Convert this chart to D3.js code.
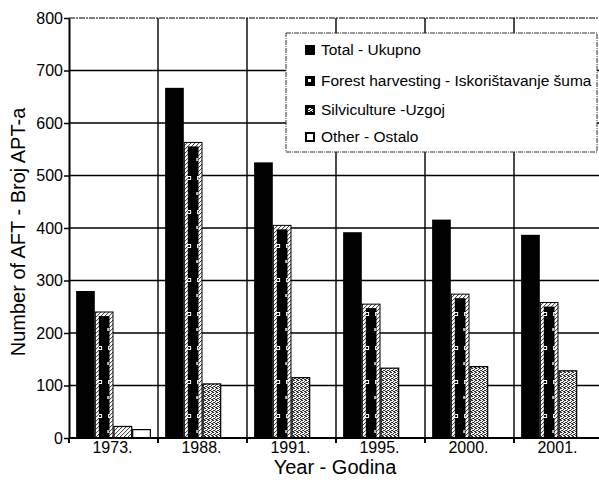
<!DOCTYPE html>
<html>
<head>
<meta charset="utf-8">
<script src="https://cdn.jsdelivr.net/npm/d3@7"></script>
<style>
  html, body { margin: 0; padding: 0; background: #fff; }
  svg { display: block; font-family: "Liberation Sans", Arial, sans-serif; }
</style>
</head>
<body>
<svg id="chart" width="599" height="491"></svg>
<script>
// Number of forestry workers by year and type of work
const years = ["1973.", "1988.", "1991.", "1995.", "2000.", "2001."];
const seriesNames = ["Total - Ukupno", "Forest harvesting - Iskorištavanje šuma", "Silviculture -Uzgoj", "Other - Ostalo"];
const total = [280, 667, 525, 392, 416, 387];
const harvesting = [240, 563, 405, 255, 274, 258];
const silviculture = [22, 103, 115, 133, 136, 128];
const other = [16, 0, 0, 0, 0, 0];
const yTicks = [0, 100, 200, 300, 400, 500, 600, 700, 800];

const seriesValues = [total, harvesting, silviculture, other];
const keys = ["total", "harvesting", "silviculture", "other"];

const svg = d3.select("#chart");
const margin = { left: 69, top: 18, bottom: 438, right: 603 };

// Patterns imitating the printed grey screens
const defs = svg.append("defs");
const dither = defs.append("pattern").attr("id", "dither")
  .attr("width", 4).attr("height", 4).attr("patternUnits", "userSpaceOnUse");
dither.append("rect").attr("width", 4).attr("height", 4).attr("fill", "#fff");
[[0,0],[2,1],[1,2],[3,3],[2,3],[0,2],[3,0]].forEach(([x, y]) =>
  dither.append("rect").attr("x", x).attr("y", y).attr("width", 1).attr("height", 1).attr("fill", "#222"));

const lightDither = defs.append("pattern").attr("id", "lightDither")
  .attr("width", 4).attr("height", 4).attr("patternUnits", "userSpaceOnUse");
lightDither.append("rect").attr("width", 4).attr("height", 4).attr("fill", "#fff");
[[0,0],[2,2],[3,1],[1,3]].forEach(([x, y]) =>
  lightDither.append("rect").attr("x", x).attr("y", y).attr("width", 1).attr("height", 1).attr("fill", "#333"));

const flecks = defs.append("pattern").attr("id", "flecks")
  .attr("width", 10).attr("height", 34).attr("patternUnits", "userSpaceOnUse");
flecks.append("rect").attr("width", 10).attr("height", 34).attr("fill", "#000");
flecks.append("rect").attr("x", 2).attr("y", 6).attr("width", 4).attr("height", 4)
  .attr("fill", "#fff");
flecks.append("rect").attr("x", 3).attr("y", 7).attr("width", 2).attr("height", 2)
  .attr("fill", "#000");
flecks.append("rect").attr("x", 1).attr("y", 22).attr("width", 2).attr("height", 3)
  .attr("fill", "#bbb");

const x0 = d3.scaleBand().domain(years).range([margin.left, margin.right])
  .paddingInner(0.16).paddingOuter(0.08);
const x1 = d3.scaleBand().domain(keys).range([0, x0.bandwidth()]);
const y = d3.scaleLinear().domain([0, 800]).range([margin.bottom, margin.top]);

const step = x0.step();
const boundaries = years.map((d, i) => margin.left + i * step).concat([margin.left + years.length * step]);

// Grid
const grid = svg.append("g");
grid.selectAll("line.h").data(yTicks.filter(t => t > 0)).join("line")
  .attr("x1", margin.left).attr("x2", margin.right)
  .attr("y1", d => y(d)).attr("y2", d => y(d))
  .attr("stroke", d => d === 800 ? "#555" : "#000")
  .attr("stroke-width", d => d === 800 ? 1.6 : 1.4)
  .attr("stroke-dasharray", d => d === 800 ? "6,1,2,1" : null);
grid.selectAll("line.v").data(boundaries.slice(1)).join("line")
  .attr("x1", d => d).attr("x2", d => d)
  .attr("y1", y(800)).attr("y2", y(0))
  .attr("stroke", "#000").attr("stroke-width", 1.4);

// Bars
const groups = svg.append("g").selectAll("g").data(years).join("g")
  .attr("transform", d => `translate(${x0(d)},0)`);

groups.each(function(year, i) {
  const g = d3.select(this);
  keys.forEach((k, s) => {
    const v = seriesValues[s][i];
    if (v <= 0) return;
    const bx = x1(k), bw = x1.bandwidth(), by = y(v), bh = y(0) - y(v);
    if (k === "total") {
      g.append("rect").attr("x", bx).attr("y", by).attr("width", bw).attr("height", bh)
        .attr("fill", "#000");
    } else if (k === "harvesting") {
      g.append("rect").attr("x", bx + 0.5).attr("y", by).attr("width", bw - 1).attr("height", bh)
        .attr("fill", "url(#lightDither)").attr("stroke", "#000").attr("stroke-width", 1);
      g.append("rect").attr("x", bx + 4).attr("y", by + 4).attr("width", Math.max(0, bw - 8))
        .attr("height", Math.max(0, bh - 5)).attr("fill", "url(#flecks)");
    } else if (k === "silviculture") {
      g.append("rect").attr("x", bx + 0.5).attr("y", by).attr("width", bw - 1).attr("height", bh)
        .attr("fill", v < 50 ? "url(#lightDither)" : "url(#dither)")
        .attr("stroke", "#000").attr("stroke-width", 1.2);
    } else {
      g.append("rect").attr("x", bx + 0.5).attr("y", by).attr("width", bw - 1).attr("height", bh)
        .attr("fill", "#fff").attr("stroke", "#000").attr("stroke-width", 1.2);
    }
  });
});

// Axes
const yAxis = svg.append("g").attr("transform", `translate(${margin.left},0)`)
  .call(d3.axisLeft(y).tickValues(yTicks).tickSize(5).tickSizeOuter(0).tickFormat(d3.format("d")));
yAxis.select(".domain").attr("stroke-width", 2);
yAxis.selectAll(".tick line").attr("stroke-width", 1.5);
yAxis.selectAll("text").attr("font-size", 16).attr("fill", "#000").attr("x", -6);

svg.append("line").attr("x1", margin.left).attr("x2", margin.right)
  .attr("y1", y(0)).attr("y2", y(0)).attr("stroke", "#000").attr("stroke-width", 2);
svg.selectAll("line.xt").data(boundaries).join("line")
  .attr("x1", d => d).attr("x2", d => d).attr("y1", y(0)).attr("y2", y(0) + 5)
  .attr("stroke", "#000").attr("stroke-width", 2);
svg.selectAll("text.year").data(years).join("text")
  .attr("x", d => x0(d) + x0.bandwidth() / 2 - 1).attr("y", 453)
  .attr("text-anchor", "middle").attr("font-size", 16).attr("fill", "#000")
  .text(d => d);

// Axis titles
svg.append("text").attr("x", 335).attr("y", 474).attr("text-anchor", "middle")
  .attr("font-size", 20).attr("fill", "#000").text("Year - Godina");
svg.append("text").attr("transform", "translate(25,232) rotate(-90)")
  .attr("text-anchor", "middle").attr("font-size", 20).attr("fill", "#000")
  .text("Number of AFT - Broj APT-a");

// Legend
const legend = svg.append("g");
legend.append("rect").attr("x", 286).attr("y", 33).attr("width", 311).attr("height", 119)
  .attr("fill", "#fff").attr("stroke", "#333").attr("stroke-width", 1)
  .attr("stroke-dasharray", "5,1,1,1");
const rowY = [50, 81, 110, 137];
seriesNames.forEach((name, i) => {
  const k = keys[i];
  const lx = 305, ly = rowY[i] - 5;
  if (k === "total") {
    legend.append("rect").attr("x", lx).attr("y", ly).attr("width", 10).attr("height", 10).attr("fill", "#000");
  } else if (k === "harvesting") {
    legend.append("rect").attr("x", lx).attr("y", ly).attr("width", 10).attr("height", 10).attr("fill", "#000");
    legend.append("rect").attr("x", lx + 3).attr("y", ly + 3).attr("width", 3).attr("height", 3).attr("fill", "#fff");
  } else if (k === "silviculture") {
    legend.append("rect").attr("x", lx).attr("y", ly).attr("width", 10).attr("height", 10).attr("fill", "#000");
    legend.append("rect").attr("x", lx + 3).attr("y", ly + 3).attr("width", 5).attr("height", 4).attr("fill", "url(#dither)");
  } else {
    legend.append("rect").attr("x", lx + 1).attr("y", ly + 1).attr("width", 8).attr("height", 8)
      .attr("fill", "#fff").attr("stroke", "#000").attr("stroke-width", 2);
  }
  legend.append("text").attr("x", 321).attr("y", rowY[i] + 5).attr("font-size", 15.5)
    .attr("fill", "#000").text(name);
});
</script>
</body>
</html>
